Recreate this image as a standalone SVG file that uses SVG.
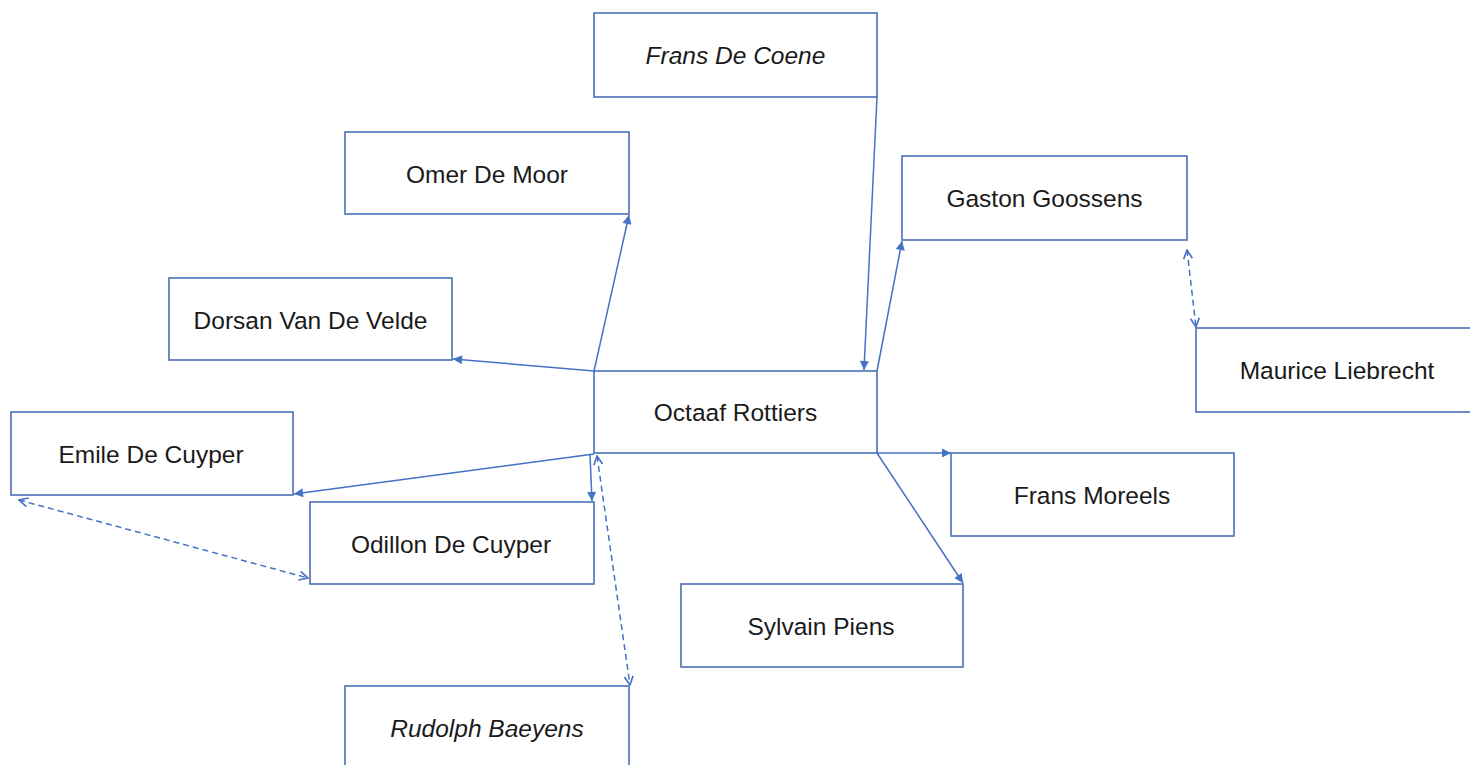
<svg xmlns="http://www.w3.org/2000/svg" width="1470" height="765" viewBox="0 0 1470 765">
<defs>
<style>
.box{fill:#fff;stroke:#4a6fb8;stroke-width:1.6}
.lbl{font-family:"Liberation Sans",Arial,sans-serif;font-size:24.5px;fill:#1a1a1a;text-anchor:middle;dominant-baseline:central}
.it{font-style:italic}
.c{fill:none;stroke:#4472c4;stroke-width:1.5}
.d{fill:none;stroke:#4472c4;stroke-width:1.5;stroke-dasharray:6 4}
</style>
<marker id="a" viewBox="0 0 10 10" refX="10" refY="5" markerWidth="10" markerHeight="9" orient="auto" markerUnits="userSpaceOnUse">
<path d="M0,0 L10,5 L0,10 z" fill="#4472c4"/>
</marker>
<marker id="o" viewBox="0 0 10 10" refX="9" refY="5" markerWidth="11" markerHeight="11" orient="auto-start-reverse" markerUnits="userSpaceOnUse">
<path d="M1,1 L9,5 L1,9" fill="none" stroke="#4472c4" stroke-width="1.5"/>
</marker>
</defs>
<rect width="1470" height="765" fill="#fff"/>
<g id="connectors">
<line class="c" x1="877" y1="97" x2="864" y2="370" marker-end="url(#a)"/>
<line class="c" x1="594" y1="371" x2="629" y2="215" marker-end="url(#a)"/>
<line class="c" x1="594" y1="371" x2="453" y2="359" marker-end="url(#a)"/>
<line class="c" x1="877" y1="371" x2="902" y2="241" marker-end="url(#a)"/>
<line class="c" x1="594" y1="454" x2="294" y2="494" marker-end="url(#a)"/>
<line class="c" x1="590" y1="455" x2="592" y2="501" marker-end="url(#a)"/>
<line class="c" x1="877" y1="453" x2="951" y2="453" marker-end="url(#a)"/>
<line class="c" x1="877" y1="453" x2="963" y2="583" marker-end="url(#a)"/>
<line class="d" x1="19" y1="500" x2="308" y2="578" marker-start="url(#o)" marker-end="url(#o)"/>
<line class="d" x1="1187" y1="250" x2="1196" y2="327" marker-start="url(#o)" marker-end="url(#o)"/>
<line class="d" x1="597" y1="456" x2="630" y2="685" marker-start="url(#o)" marker-end="url(#o)"/>
</g>
<g id="n-octaaf"><rect class="box" x="594" y="371" width="283" height="82"/><text class="lbl" x="735.5" y="412">Octaaf Rottiers</text></g>
<g id="n-coene"><rect class="box" x="594" y="13" width="283" height="84"/><text class="lbl it" x="735.5" y="55">Frans De Coene</text></g>
<g id="n-omer"><rect class="box" x="345" y="132" width="284" height="82"/><text class="lbl" x="487" y="174">Omer De Moor</text></g>
<g id="n-gaston"><rect class="box" x="902" y="156" width="285" height="84"/><text class="lbl" x="1044.5" y="198">Gaston Goossens</text></g>
<g id="n-dorsan"><rect class="box" x="169" y="278" width="283" height="82"/><text class="lbl" x="310.5" y="320">Dorsan Van De Velde</text></g>
<g id="n-maurice"><rect class="box" x="1196" y="328" width="290" height="84"/><text class="lbl" x="1337" y="370">Maurice Liebrecht</text></g>
<g id="n-emile"><rect class="box" x="11" y="412" width="282" height="83"/><text class="lbl" x="151" y="454">Emile De Cuyper</text></g>
<g id="n-moreels"><rect class="box" x="951" y="453" width="283" height="83"/><text class="lbl" x="1092" y="495">Frans Moreels</text></g>
<g id="n-odillon"><rect class="box" x="310" y="502" width="284" height="82"/><text class="lbl" x="451" y="544">Odillon De Cuyper</text></g>
<g id="n-sylvain"><rect class="box" x="681" y="584" width="282" height="83"/><text class="lbl" x="821" y="626">Sylvain Piens</text></g>
<g id="n-rudolph"><rect class="box" x="345" y="686" width="284" height="90"/><text class="lbl it" x="487" y="728">Rudolph Baeyens</text></g>
</svg>
